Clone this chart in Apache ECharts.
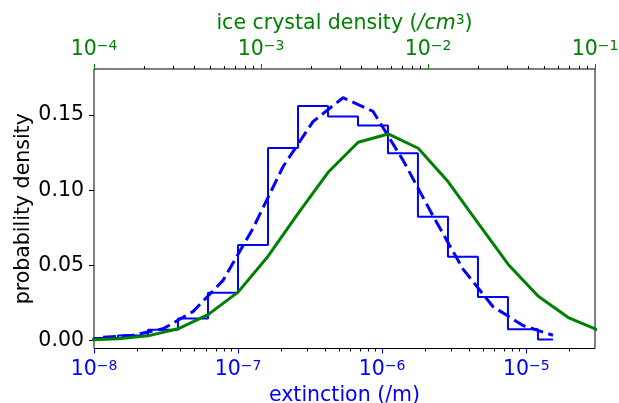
<!DOCTYPE html>
<html>
<head>
<meta charset="utf-8">
<title>extinction / ice crystal density</title>
<script src="https://cdn.jsdelivr.net/npm/echarts@6/dist/echarts.min.js"></script>
<style>
  * { margin: 0; padding: 0 }
  html, body { width: 100%; height: 100%; background: #fff; }
  #chart { width: 619px; height: 403px; }
</style>
</head>
<body>
<div id="chart"></div>
<script type="text/javascript">
// histogram bin centres (extinction, /m) and values
var binCentres = [7.15e-9, 1.155e-8, 1.865e-8, 3.01e-8, 4.86e-8, 7.86e-8, 1.269e-7, 2.05e-7,
  3.31e-7, 5.35e-7, 8.63e-7, 1.394e-6, 2.25e-6, 3.64e-6, 5.87e-6, 9.49e-6, 1.532e-5];
var histDensity = [0.0017, 0.0017, 0.0033, 0.0071, 0.0147, 0.0317, 0.0635, 0.128,
  0.156, 0.149, 0.143, 0.1245, 0.0823, 0.0557, 0.029, 0.0075, 0.0007];
// dashed curve, same x positions (first one not drawn)
var fitDensity = [null, 0.0022, 0.0035, 0.0078, 0.0192, 0.040, 0.0746, 0.1156,
  0.1456, 0.1615, 0.1525, 0.120, 0.083, 0.0475, 0.0226, 0.010, 0.0035];
// green curve against ice crystal density (/cm^3)
var iceDensity = [9.2e-5, 1.393e-4, 2.106e-4, 3.186e-4, 4.82e-4, 7.29e-4, 1.103e-3, 1.669e-3,
  2.523e-3, 3.817e-3, 5.773e-3, 8.736e-3, 1.321e-2, 2.0e-2, 3.024e-2, 4.575e-2, 6.92e-2, 0.1047];
var iceProb = [0.0005, 0.0012, 0.0031, 0.0078, 0.0172, 0.0322, 0.0561, 0.0846,
  0.1119, 0.1319, 0.1374, 0.1279, 0.1056, 0.0779, 0.0506, 0.0295, 0.0153, 0.0069];

var extMajor = [1e-8, 1e-7, 1e-6, 1e-5];
var extMinor = [];
var iceMajor = [1e-4, 1e-3, 1e-2, 1e-1];
var iceMinor = [];
[1e-8, 1e-7, 1e-6, 1e-5].forEach(function (d) {
  for (var k = 2; k <= 9; k++) if (k * d <= 3e-5) extMinor.push(k * d);
});
[1e-4, 1e-3, 1e-2].forEach(function (d) {
  for (var k = 2; k <= 9; k++) iceMinor.push(k * d);
});
var yTicks = [0, 0.05, 0.10, 0.15];

var FONT = 'DejaVu Sans';
var FS = 20.5;
function powLabel(v) {
  var e = Math.round(Math.log10(v));
  return '{a|10}{b|\u2212' + (-e) + '}';
}
function powRich(c) {
  return {
    a: { fontFamily: FONT, fontSize: FS, color: c },
    b: { fontFamily: FONT, fontSize: 14, color: c, verticalAlign: 'top' }
  };
}
function pairs(xs, ys) {
  return xs.map(function (x, i) { return [x, ys[i]]; });
}

var chart = echarts.init(document.getElementById('chart'));
chart.setOption({
  animation: false,
  grid: { left: 94, top: 69, width: 501, height: 279.5, show: true,
    borderColor: '#000', borderWidth: 1, containLabel: false, outerBoundsMode: 'none' },
  xAxis: [{
    type: 'log', position: 'bottom', min: 1e-8, max: 3e-5,
    name: 'extinction (/m)', nameLocation: 'middle', nameGap: 34,
    nameTextStyle: { fontFamily: FONT, fontSize: FS, color: '#0000ff' },
    axisLine: { show: false, onZero: false },
    axisTick: { customValues: extMajor, length: 5, lineStyle: { color: '#0000ff', width: 1 } },
    axisLabel: { customValues: extMajor, margin: 11, formatter: powLabel, rich: powRich('#0000ff') },
    splitLine: { show: false }
  }, {
    type: 'log', position: 'top', min: 1e-4, max: 1e-1,
    name: '{n|ice crystal density (}{i|/cm}{s|3}{n|)}', nameLocation: 'middle', nameGap: 34,
    nameTextStyle: { rich: {
      n: { fontFamily: FONT, fontSize: FS, color: '#008000' },
      i: { fontFamily: FONT, fontSize: FS, fontStyle: 'italic', color: '#008000' },
      s: { fontFamily: FONT, fontSize: 14, color: '#008000', verticalAlign: 'top' }
    } },
    axisLine: { show: false, onZero: false },
    axisTick: { customValues: iceMajor, length: 5, lineStyle: { color: '#008000', width: 1 } },
    axisLabel: { customValues: iceMajor, margin: 9, formatter: powLabel, rich: powRich('#008000') },
    splitLine: { show: false }
  }, {
    type: 'log', position: 'bottom', min: 1e-8, max: 3e-5,
    axisLine: { show: false, onZero: false },
    axisTick: { customValues: extMinor, length: 3, lineStyle: { color: '#000', width: 1 } },
    axisLabel: { show: false }, splitLine: { show: false }
  }, {
    type: 'log', position: 'top', min: 1e-4, max: 1e-1,
    axisLine: { show: false, onZero: false },
    axisTick: { customValues: iceMinor, length: 3, lineStyle: { color: '#000', width: 1 } },
    axisLabel: { show: false }, splitLine: { show: false }
  }],
  yAxis: {
    type: 'value', min: -0.0053, max: 0.1806,
    name: 'probability density', nameLocation: 'middle', nameGap: 60, nameRotate: 90,
    nameMoveOverlap: false,
    nameTextStyle: { fontFamily: FONT, fontSize: FS, color: '#000' },
    axisLine: { show: false },
    axisTick: { customValues: yTicks, length: 5, lineStyle: { color: '#000', width: 1 } },
    axisLabel: { customValues: yTicks, margin: 10, fontFamily: FONT, fontSize: FS, color: '#000',
      formatter: function (v) { return v.toFixed(2); } },
    splitLine: { show: false }
  },
  series: [{
    type: 'line', xAxisIndex: 0, step: 'middle', showSymbol: false, symbol: 'none',
    data: pairs(binCentres, histDensity),
    lineStyle: { color: '#0000ff', width: 2 }
  }, {
    type: 'line', xAxisIndex: 0, showSymbol: false, symbol: 'none',
    data: pairs(binCentres, fitDensity),
    lineStyle: { color: '#0000ff', width: 3, type: [13, 5.5] }
  }, {
    type: 'line', xAxisIndex: 1, showSymbol: false, symbol: 'none',
    data: pairs(iceDensity, iceProb),
    lineStyle: { color: '#008000', width: 3 }
  }]
});
</script>
</body>
</html>
